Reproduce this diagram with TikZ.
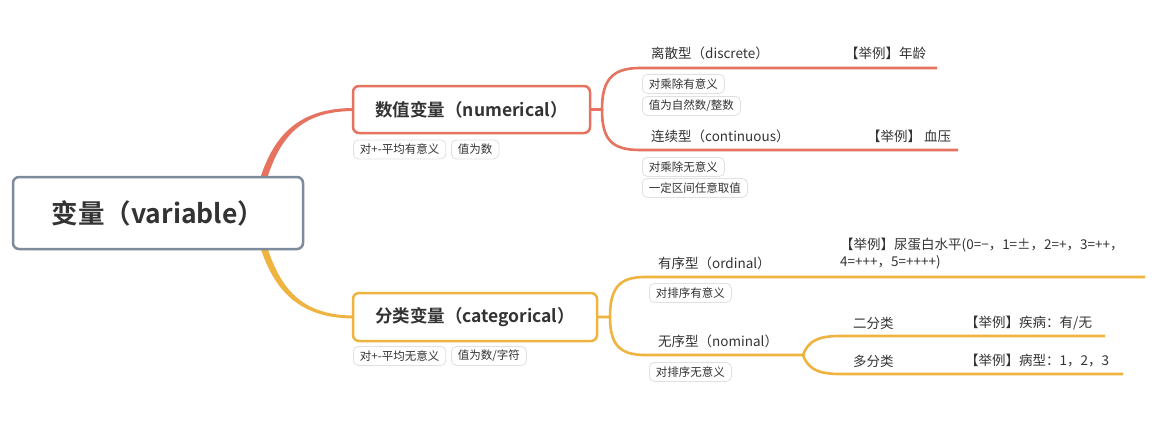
\documentclass[tikz,border=0pt]{standalone}
\usepackage{fontspec}
\setmainfont{Noto Sans CJK SC}[BoldFont={Noto Sans CJK SC Bold}]
\usetikzlibrary{calc,backgrounds}
\definecolor{rd}{HTML}{E6735F}
\definecolor{yl}{HTML}{EFB43F}
\definecolor{gr}{HTML}{7E8B9C}
\definecolor{tx}{HTML}{333333}
\definecolor{tagb}{HTML}{E0E0E0}
\begin{document}
\begin{tikzpicture}[x=1pt,y=-1pt,
 every node/.style={text=tx},
 rootbox/.style={draw=gr, line width=2.5pt, rounded corners=6pt, fill=white, outer sep=0pt, minimum width=290pt, minimum height=72pt, font=\fontsize{26.5}{30}\selectfont\bfseries},
 mainbox/.style={line width=2.5pt, rounded corners=6pt, fill=white, outer sep=0pt, font=\fontsize{17.5}{20}\selectfont\bfseries},
 tag/.style={draw=tagb, line width=0.8pt, rounded corners=5pt, fill=white, inner xsep=6.5pt, inner ysep=0pt, minimum height=19pt, font=\fontsize{11.5}{13}\selectfont, anchor=north west},
 lbl/.style={font=\fontsize{13.5}{16}\selectfont, anchor=west, inner sep=0pt},
 rline/.style={draw=rd, line width=2.6pt},
 yline/.style={draw=yl, line width=2.6pt},
]
\useasboundingbox (0,0) rectangle (1162,428);

% boxes
\node[rootbox] (root) at (158,213) {变量（variable）};
\node[mainbox, draw=rd, minimum width=237pt, minimum height=47pt] (num) at (471.5,109.5) {数值变量（numerical）};
\node[mainbox, draw=yl, minimum width=244pt, minimum height=48pt] (cat) at (475,317) {分类变量（categorical）};

% tapered connectors from root
\begin{pgfonlayer}{background}
\fill[white] (0,0) rectangle (1162,428);
\fill[rd] ($(root.north east)+(-48.5,23)$) .. controls ($(root.north east)+(-34.5,-43)$) and ($(num.west)+(-54,-1)$) .. ($(num.west)+(0,-1.5)$)
  -- ($(num.west)+(0,1.5)$) .. controls ($(num.west)+(-52,2)$) and ($(root.north east)+(-27.5,-41)$) .. ($(root.north east)+(-41.5,23)$) -- cycle;
\fill[yl] ($(root.south east)+(-48.5,-24)$) .. controls ($(root.south east)+(-34.5,42)$) and ($(cat.west)+(-54,1)$) .. ($(cat.west)+(0,1.5)$)
  -- ($(cat.west)+(0,-1.5)$) .. controls ($(cat.west)+(-52,-2)$) and ($(root.south east)+(-27.5,40)$) .. ($(root.south east)+(-41.5,-24)$) -- cycle;
\end{pgfonlayer}

% tags under main boxes
\node[tag] (t1) at (353,139.5) {对+-平均有意义};
\node[tag] (t2) at (451,139.5) {值为数};
\node[tag] (t3) at (353,346) {对+-平均无意义};
\node[tag] (t4) at (451,346) {值为数/字符};

% numerical branches
\coordinate (rb) at (602,109.5);
\coordinate (d1s) at (640,68);
\coordinate (d1e) at (937,68);
\coordinate (c1s) at (640,150);
\coordinate (c1e) at (958,150);
\draw[rline] (num.east) -- (rb) .. controls (602,80) and (612,68) .. (d1s) -- (d1e);
\draw[rline] (rb) .. controls (602,140) and (612,150) .. (c1s) -- (c1e);

\node[lbl] (d1) at (651,53) {离散型（discrete）};
\node[lbl] (d1x) at (845,53) {【举例】年龄};
\node[lbl] (c1) at (651,136) {连续型（continuous）};
\node[lbl] (c1x) at (867,136) {【举例】 血压};
\node[tag] (t5) at (642,74) {对乘除有意义};
\node[tag] (t6) at (642,96) {值为自然数/整数};
\node[tag] (t7) at (642,157) {对乘除无意义};
\node[tag] (t8) at (642,178) {一定区间任意取值};

% categorical branches
\coordinate (yb) at (610,317);
\coordinate (o1s) at (645,277);
\coordinate (o1e) at (1145,277);
\coordinate (n1s) at (645,355);
\coordinate (nb) at (803,355);
\coordinate (b2s) at (840,336);
\coordinate (b2e) at (1105,336);
\coordinate (b3s) at (840,374);
\coordinate (b3e) at (1123,374);
\draw[yline] (cat.east) -- (yb) .. controls (610,287) and (620,277) .. (o1s) -- (o1e);
\draw[yline] (yb) .. controls (610,345) and (620,355) .. (n1s) -- (nb);
\draw[yline] (nb) .. controls (808,341) and (818,336) .. (b2s) -- (b2e);
\draw[yline] (nb) .. controls (808,369) and (818,374) .. (b3s) -- (b3e);

\node[lbl] (o1) at (658,263) {有序型（ordinal）};
\node[lbl, anchor=north west, align=left, font=\fontsize{13.5}{17}\selectfont] (o1x) at (840,238) {【举例】尿蛋白水平(0=−，1=±，2=+，3=++，\\4=+++，5=++++)};
\node[tag] (t9) at (649,283) {对排序有意义};
\node[lbl] (n1) at (658,341) {无序型（nominal）};
\node[tag] (t10) at (649,362) {对排序无意义};
\node[lbl] (b2) at (853,323) {二分类};
\node[lbl] (b2x) at (965,323) {【举例】疾病：有/无};
\node[lbl] (b3) at (853,361) {多分类};
\node[lbl] (b3x) at (965,361) {【举例】病型：1，2，3};
\end{tikzpicture}
\end{document}
